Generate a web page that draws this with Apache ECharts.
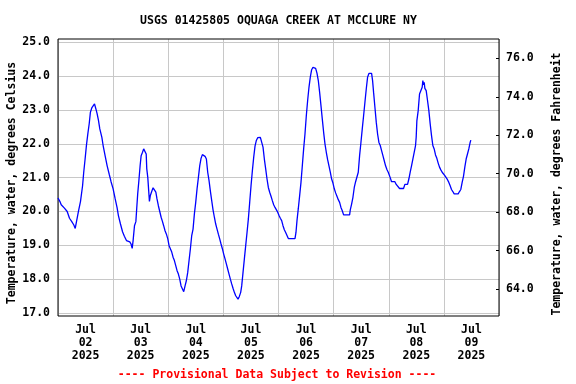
<!DOCTYPE html>
<html>
<head>
<meta charset="utf-8">
<script src="https://cdn.jsdelivr.net/npm/echarts@6/dist/echarts.min.js"></script>
<style>html,body{margin:0;padding:0;background:#fff}#c{width:576px;height:384px}</style>
</head>
<body>
<div id="c"></div>
<script>
// Hours since 2025-07-02 00:00
const hours = [0.0,0.8,1.4,2.8,4.0,5.0,6.0,6.9,7.5,8.05,8.9,9.8,10.7,11.2,11.8,12.4,13.0,13.6,14.1,14.7,15.3,15.9,16.5,17.0,17.6,18.2,19.1,19.65,20.5,21.4,22.3,23.1,24.0,24.9,25.7,26.3,27.2,28.1,28.9,29.8,30.4,31.25,31.8,32.3,32.7,33.3,33.9,34.3,34.7,35.2,35.75,36.2,36.8,37.3,37.9,38.4,38.65,39.1,39.5,39.8,40.2,40.8,41.4,42.0,42.6,43.1,43.7,44.3,44.9,45.5,46.0,46.6,47.2,47.8,
48.36,48.94,49.52,50.1,50.68,51.26,51.84,52.42,53.0,53.58,54.16,54.74,55.32,55.9,56.48,57.06,57.64,58.22,58.8,59.38,59.96,60.54,61.12,61.7,62.28,62.86,63.44,64.02,64.6,65.18,65.76,66.34,66.92,67.5,68.08,68.66,69.24,69.82,70.4,70.98,71.56,72.14,72.72,73.3,73.88,74.46,75.04,75.62,76.2,76.78,77.37,77.95,78.38,78.96,79.54,79.98,80.56,81.14,81.72,82.3,82.88,83.46,84.04,84.62,85.2,85.78,86.36,86.94,87.52,88.1,88.68,89.26,89.84,90.42,91.0,91.58,92.16,92.74,93.32,93.9,94.48,95.07,95.65,
96.23,96.8,97.38,97.96,98.54,99.12,99.7,100.28,103.18,103.61,104.05,104.63,105.21,105.79,106.37,106.95,107.53,108.11,108.69,109.27,109.85,110.43,111.01,111.59,112.17,112.75,113.33,113.91,114.49,115.07,115.65,116.23,116.81,117.39,117.97,118.55,119.13,119.71,120.29,120.87,121.45,122.03,122.61,123.19,123.77,124.35,126.96,127.25,127.83,128.41,128.99,129.57,130.15,130.73,131.31,131.89,132.47,133.05,133.63,134.21,134.79,135.37,136.53,136.96,137.4,137.98,138.56,139.14,139.72,140.3,140.88,141.46,142.04,142.62,143.2,143.78,
144.1,144.64,145.22,146.67,147.25,148.12,148.7,150.44,151.02,152.18,152.76,153.34,153.92,154.5,155.08,155.66,155.95,156.24,156.82,157.4,157.98,158.56,158.85,159.14,159.43,159.72,160.3,160.88,161.46,162.04,162.62,163.2,163.78,164.36,164.94,165.52,166.1,166.68,167.26,167.84,168.42,169.0,169.58,170.16,170.74,171.32,171.9,172.48,174.22,174.8,175.38,175.96,176.54,177.12,177.7,178.28,178.86,179.44,179.73];
const tempC = [20.4,20.3,20.2,20.1,20.0,19.8,19.7,19.6,19.5,19.7,20.0,20.3,20.76,21.16,21.55,21.97,22.3,22.6,22.93,23.06,23.1,23.18,23.03,22.9,22.7,22.44,22.19,21.95,21.65,21.35,21.1,20.88,20.67,20.37,20.12,19.88,19.63,19.4,19.27,19.14,19.1,19.1,19.04,18.91,19.14,19.58,19.7,20.12,20.52,20.9,21.35,21.65,21.75,21.85,21.9,21.7,21.26,21.0,20.6,20.3,20.47,20.59,20.7,20.7,20.57,20.37,20.17,20.0,19.83,19.7,19.58,19.43,19.33,19.19,
18.99,18.94,18.8,18.65,18.55,18.4,18.25,18.15,18.0,17.8,17.76,17.63,17.8,17.96,18.2,18.55,18.9,19.29,19.48,19.93,20.27,20.67,21.0,21.35,21.57,21.68,21.67,21.63,21.55,21.16,20.91,20.6,20.32,20.05,19.83,19.63,19.48,19.33,19.19,19.04,18.9,18.74,18.6,18.45,18.3,18.15,18.0,17.86,17.73,17.61,17.51,17.49,17.41,17.49,17.61,17.8,18.2,18.6,18.99,19.38,19.78,20.27,20.76,21.2,21.6,21.93,22.1,22.18,22.19,22.19,22.16,21.9,21.55,21.26,20.96,20.71,20.57,20.45,20.32,20.2,20.12,20.07,19.98,
19.88,19.8,19.73,19.58,19.46,19.38,19.29,19.2,19.2,19.38,19.73,20.09,20.47,20.86,21.35,21.85,22.29,22.83,23.28,23.67,23.97,24.19,24.26,24.29,24.23,24.09,23.87,23.52,23.13,22.73,22.34,22.0,21.75,21.53,21.35,21.16,20.96,20.84,20.67,20.55,20.45,20.35,20.27,20.12,20.02,19.9,19.9,20.05,20.22,20.42,20.71,20.88,20.91,21.16,21.65,22.04,22.44,22.83,23.23,23.62,23.97,24.08,24.08,23.87,23.52,23.08,22.64,22.29,22.04,21.95,21.8,21.65,21.5,21.35,21.24,21.16,
21.11,21.0,20.88,20.88,20.8,20.76,20.68,20.68,20.8,20.8,20.96,21.16,21.35,21.55,21.6,21.95,22.2,22.68,22.98,23.47,23.52,23.67,23.87,23.74,23.82,23.64,23.57,23.28,22.98,22.59,22.24,21.95,21.85,21.67,21.57,21.43,21.31,21.23,21.16,21.11,21.06,21.0,20.94,20.86,20.76,20.65,20.59,20.52,20.52,20.59,20.65,20.86,21.04,21.31,21.55,21.7,21.85,22.04,22.11];
const dayLabels = ['Jul\n02\n2025','Jul\n03\n2025','Jul\n04\n2025','Jul\n05\n2025','Jul\n06\n2025','Jul\n07\n2025','Jul\n08\n2025','Jul\n09\n2025'];
const titleText = 'USGS 01425805 OQUAGA CREEK AT MCCLURE NY';
const leftName = 'Temperature, water, degrees Celsius';
const rightName = 'Temperature, water, degrees Fahrenheit';
const footerText = '---- Provisional Data Subject to Revision ----';

const FONT = '"DejaVu Sans Mono", "Liberation Mono", monospace';
const chart = echarts.init(document.getElementById('c'), null, {renderer: 'canvas'});
const L = 58, W = 441;
chart.setOption({
  animation: false,
  backgroundColor: '#ffffff',
  grid: [
    {left: L, top: 39, width: W, height: 277, show: true, borderColor: '#000', borderWidth: 1, backgroundColor: 'transparent', z: 3},
    {left: L, top: 42.3, width: W, height: 270.7},
    {left: L, top: 58.3, width: W, height: 230.7}
  ],
  xAxis: [
    {type: 'category', gridIndex: 0, data: dayLabels, boundaryGap: true,
     axisLine: {show: false, onZero: false}, axisTick: {show: false},
     splitLine: {show: true, lineStyle: {color: '#c8c8c8', width: 1}},
     axisLabel: {color: '#000', fontFamily: FONT, fontWeight: 'bold', fontSize: 11.5, lineHeight: 13, margin: 8, interval: 0}},
    {type: 'value', gridIndex: 1, min: 0, max: 192, show: false, axisLine: {onZero: false}},
    {type: 'value', gridIndex: 2, min: 0, max: 1, show: false, axisLine: {onZero: false}}
  ],
  yAxis: [
    {type: 'value', gridIndex: 0, min: 0, max: 1, show: false, axisLine: {onZero: false}},
    {type: 'value', gridIndex: 1, min: 17, max: 25, interval: 1, position: 'left',
     axisLine: {show: false, onZero: false}, axisTick: {show: false},
     splitLine: {show: true, lineStyle: {color: '#c8c8c8', width: 1}},
     axisLabel: {color: '#000', fontFamily: FONT, fontWeight: 'bold', fontSize: 11.5, margin: 8, formatter: v => v.toFixed(1)}},
    {type: 'value', gridIndex: 2, min: 64, max: 76, interval: 2, position: 'right',
     axisLine: {show: false, onZero: false}, axisTick: {show: true, inside: true, length: 3, lineStyle: {color: '#000'}},
     splitLine: {show: false},
     axisLabel: {color: '#000', fontFamily: FONT, fontWeight: 'bold', fontSize: 11.5, margin: 7, formatter: v => v.toFixed(1)}}
  ],
  series: [{
    type: 'line', xAxisIndex: 1, yAxisIndex: 1, showSymbol: false, symbol: 'none',
    lineStyle: {color: '#0000ff', width: 1.3}, z: 5,
    data: hours.map((h, i) => [h, tempC[i]])
  }],
  graphic: [
    {type: 'text', x: 278.5, y: 21, style: {text: titleText, font: 'bold 11.5px ' + FONT, fill: '#000', textAlign: 'center', textVerticalAlign: 'middle'}},
    {type: 'text', x: 12, y: 183, rotation: Math.PI / 2, style: {text: leftName, font: 'bold 11.5px ' + FONT, fill: '#000', textAlign: 'center', textVerticalAlign: 'middle'}},
    {type: 'text', x: 557, y: 184, rotation: Math.PI / 2, style: {text: rightName, font: 'bold 11.5px ' + FONT, fill: '#000', textAlign: 'center', textVerticalAlign: 'middle'}},
    {type: 'text', x: 277, y: 375, style: {text: footerText, font: 'bold 11.5px ' + FONT, fill: '#ff0000', textAlign: 'center', textVerticalAlign: 'middle'}}
  ]
});
</script>
</body>
</html>
